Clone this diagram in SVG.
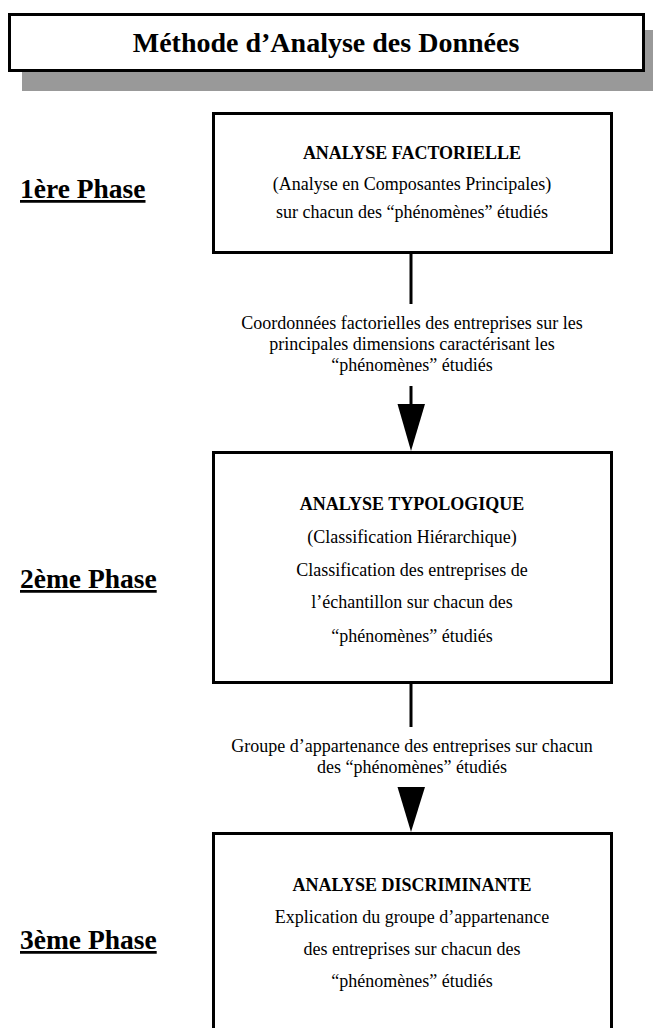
<svg xmlns="http://www.w3.org/2000/svg" width="653" height="1028" viewBox="0 0 653 1028">
<style>
.box{fill:#fff;stroke:#000;stroke-width:3}
.t{font-family:"Liberation Serif","Times New Roman",serif;fill:#000;text-anchor:middle}
.b{font-weight:bold}
.n{font-size:18px}
.ph{font-family:"Liberation Serif","Times New Roman",serif;font-weight:bold;font-size:27.5px;text-decoration:underline;fill:#000}
.ln{stroke:#000;stroke-width:3;fill:none}
</style>
<g id="title">
<rect x="22" y="30" width="631" height="61" fill="#999"/>
<rect class="box" x="9.5" y="14.5" width="634" height="56"/>
<text class="t b" x="326" y="52" font-size="28">Méthode d’Analyse des Données</text>
</g>
<g id="phase1"><text class="ph" x="20" y="198">1ère Phase</text></g>
<g id="phase2"><text class="ph" x="20" y="588">2ème Phase</text></g>
<g id="phase3"><text class="ph" x="20" y="949">3ème Phase</text></g>
<g id="box1">
<rect class="box" x="213.5" y="113.5" width="398" height="139"/>
<text class="t b n" x="412" y="159">ANALYSE FACTORIELLE</text>
<text class="t n" x="412" y="190">(Analyse en Composantes Principales)</text>
<text class="t n" x="412" y="218">sur chacun des “phénomènes” étudiés</text>
</g>
<g id="box2">
<rect class="box" x="213.5" y="452.5" width="398" height="230"/>
<text class="t b n" x="412" y="510">ANALYSE TYPOLOGIQUE</text>
<text class="t n" x="412" y="543">(Classification Hiérarchique)</text>
<text class="t n" x="412" y="576">Classification des entreprises de</text>
<text class="t n" x="412" y="608">l’échantillon sur chacun des</text>
<text class="t n" x="412" y="642">“phénomènes” étudiés</text>
</g>
<g id="box3">
<rect class="box" x="213.5" y="833.5" width="398" height="220"/>
<text class="t b n" x="412" y="891">ANALYSE DISCRIMINANTE</text>
<text class="t n" x="412" y="923">Explication du groupe d’appartenance</text>
<text class="t n" x="412" y="955">des entreprises sur chacun des</text>
<text class="t n" x="412" y="987">“phénomènes” étudiés</text>
</g>
<g id="connectors">
<line class="ln" x1="411" y1="253" x2="411" y2="304"/>
<text class="t n" x="412" y="329">Coordonnées factorielles des entreprises sur les</text>
<text class="t n" x="412" y="350">principales dimensions caractérisant les</text>
<text class="t n" x="412" y="371">“phénomènes” étudiés</text>
<line class="ln" x1="411" y1="386" x2="411" y2="406"/>
<polygon points="397.5,404 425,404 411,451" fill="#000"/>
<line class="ln" x1="411" y1="683" x2="411" y2="727"/>
<text class="t n" x="412" y="752">Groupe d’appartenance des entreprises sur chacun</text>
<text class="t n" x="412" y="773">des “phénomènes” étudiés</text>
<polygon points="397.5,787 425,787 411,832" fill="#000"/>
</g>
</svg>
